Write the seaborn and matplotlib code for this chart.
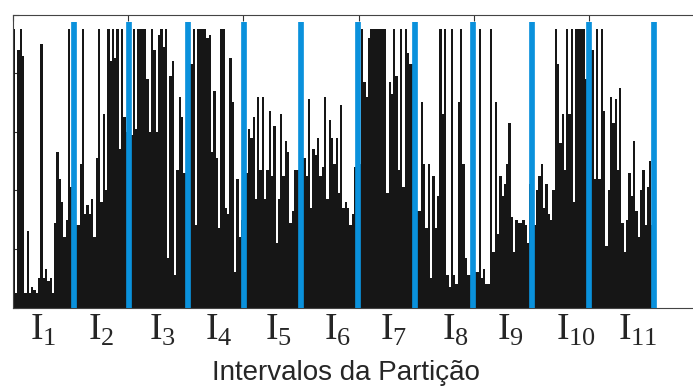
import numpy as np
import pandas as pd
import matplotlib
matplotlib.use("Agg")
import matplotlib.pyplot as plt
import seaborn as sns

# bar heights (fraction of the y range), one list per partition interval
i1 = [0.95, 0.05, 0.88, 0.95, 0.86, 0.05, 0.26, 0.05, 0.07, 0.06, 0.05, 0.10, 0.90, 0.10,
      0.13, 0.09, 0.10, 0.05, 0.29, 0.53, 0.44, 0.36, 0.24, 0.30, 0.95, 0.41, 0.30]
i2 = [0.28, 0.28, 0.49, 0.95, 0.32, 0.35, 0.32, 0.37, 0.24, 0.51, 0.95, 0.36, 0.66, 0.40,
      0.95, 0.84, 0.95, 0.85, 0.95, 0.54, 0.95, 0.65, 0.60]
i3 = [0.60, 0.59, 0.95, 0.61, 0.95, 0.95, 0.95, 0.95, 0.78, 0.60, 0.95, 0.88, 0.60, 0.93,
      0.95, 0.89, 0.95, 0.17, 0.79, 0.84, 0.11, 0.47, 0.72, 0.65, 0.46, 0.46]
i4 = [0.46, 0.83, 0.95, 0.28, 0.95, 0.95, 0.95, 0.95, 0.92, 0.93, 0.53, 0.74, 0.51, 0.27,
      0.95, 0.95, 0.34, 0.32, 0.85, 0.70, 0.12, 0.44, 0.24, 0.30]
i5 = [0.30, 0.46, 0.61, 0.58, 0.65, 0.37, 0.72, 0.47, 0.72, 0.37, 0.47, 0.67, 0.45, 0.62,
      0.22, 0.37, 0.66, 0.45, 0.57, 0.53, 0.29, 0.33, 0.47, 0.47, 0.47]
i6 = [0.47, 0.51, 0.45, 0.71, 0.34, 0.54, 0.52, 0.58, 0.45, 0.48, 0.72, 0.37, 0.64, 0.58,
      0.49, 0.58, 0.39, 0.69, 0.34, 0.36, 0.34, 0.28, 0.32, 0.48, 0.49]
i7 = [0.49, 0.95, 0.77, 0.72, 0.92, 0.95, 0.95, 0.95, 0.95, 0.95, 0.95, 0.95, 0.39, 0.77,
      0.73, 0.95, 0.79, 0.47, 0.95, 0.41, 0.95, 0.87, 0.83, 0.83, 0.50]
i8 = [0.33, 0.33, 0.70, 0.49, 0.27, 0.49, 0.10, 0.45, 0.27, 0.38, 0.95, 0.66, 0.95, 0.11,
      0.07, 0.95, 0.11, 0.08, 0.70, 0.95, 0.49, 0.17, 0.11, 0.11, 0.10]
i9 = [0.12, 0.12, 0.95, 0.10, 0.13, 0.08, 0.08, 0.95, 0.19, 0.70, 0.25, 0.45, 0.38, 0.42,
      0.49, 0.63, 0.31, 0.19, 0.30, 0.29, 0.29, 0.30, 0.28, 0.22, 0.42]
i10 = [0.28, 0.28, 0.40, 0.45, 0.49, 0.34, 0.42, 0.32, 0.30, 0.40, 0.95, 0.83, 0.56, 0.66,
       0.47, 0.95, 0.66, 0.95, 0.36, 0.95, 0.95, 0.95, 0.95, 0.78, 0.70]
i11 = [0.88, 0.88, 0.44, 0.95, 0.44, 0.95, 0.67, 0.21, 0.40, 0.72, 0.63, 0.71, 0.47, 0.75,
       0.29, 0.19, 0.30, 0.46, 0.38, 0.57, 0.33, 0.24, 0.40, 0.47, 0.28, 0.41, 0.50, 0.28, 0.54]

# partition boundaries (blue lines), interval labels and where they sit
cuts = [26.8, 50.3, 75.9, 100.2, 125.1, 149.8, 174.6, 199.6, 225.1, 250.0, 278.0]
labels = [r"$\mathrm{I}_{%d}$" % k for k in range(1, 12)]
label_pos = [13.2, 38.3, 65.1, 89.2, 115.1, 141.1, 165.1, 192.0, 216.0, 244.1, 271.0]

heights = i1 + i2 + i3 + i4 + i5 + i6 + i7 + i8 + i9 + i10 + i11
df = pd.DataFrame({"pos": np.arange(len(heights)) + 0.5, "h": heights})

sns.set_style("white")
plt.rcParams["font.family"] = ["Liberation Sans", "DejaVu Sans"]
plt.rcParams["mathtext.fontset"] = "custom"
plt.rcParams["mathtext.rm"] = "Liberation Serif"

fig = plt.figure(figsize=(6.93, 3.87), dpi=100)
ax = fig.add_axes([0.0183, 0.2054, 0.9983, 0.7571])

sns.barplot(data=df, x="pos", y="h", native_scale=True, width=1, color="#161616",
            saturation=1, linewidth=0, errorbar=None, antialiased=False, ax=ax)
ax.vlines(cuts, 0, 0.975, colors="#0a91dc", linewidth=4.1, zorder=3)

ax.set_xlim(0, 300)
ax.set_ylim(0, 1)

ax.set_xticks(label_pos)
ax.set_xticklabels(labels, fontsize=27)
ax.set_xticks(np.arange(0, 301, 50), minor=True)
ax.tick_params(axis="x", which="major", length=0, pad=3)
ax.tick_params(axis="x", which="minor", bottom=False, top=True, direction="in",
               length=4, width=0.8, color="#333333")
ax.set_yticks(np.arange(0, 1.01, 0.2))
ax.set_yticklabels([])
ax.tick_params(axis="y", left=True, direction="in", length=4, width=0.8, color="#333333")

ax.set_xlabel("Intervalos da Partição", fontsize=20, labelpad=9, x=0.482)
ax.set_ylabel("")
for s in ax.spines.values():
    s.set_color("#444444")
    s.set_linewidth(0.8)

fig.savefig("out.png", dpi=100)
plt.close()
